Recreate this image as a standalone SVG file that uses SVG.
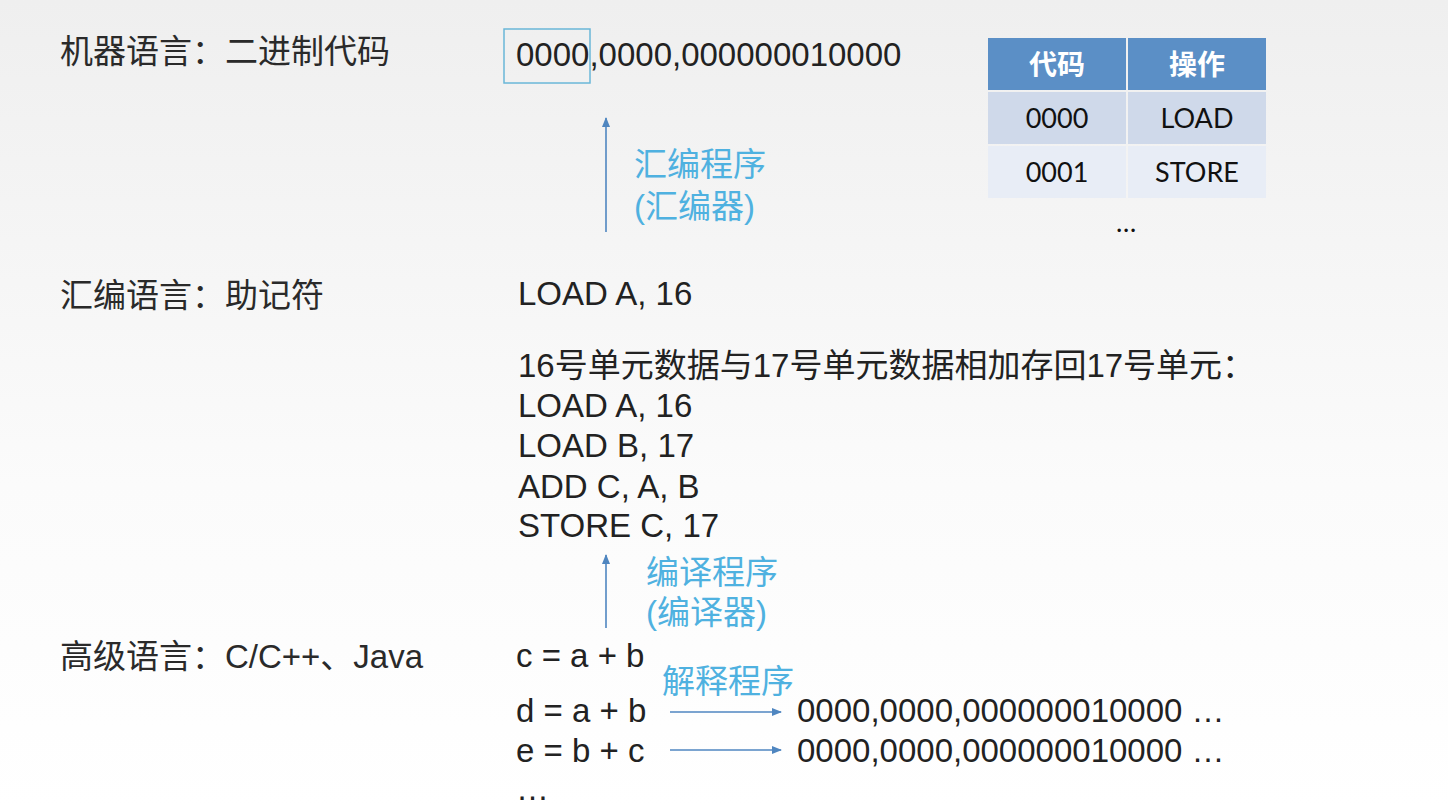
<svg xmlns="http://www.w3.org/2000/svg" width="1448" height="808" viewBox="0 0 1448 808">
<defs>
<linearGradient id="bg" x1="0" y1="0" x2="0" y2="1">
<stop offset="0" stop-color="#efefef"/>
<stop offset="0.6" stop-color="#fbfbfb"/>
<stop offset="1" stop-color="#ffffff"/>
</linearGradient>
<marker id="ah" viewBox="0 0 10 10" refX="9" refY="5" markerWidth="10" markerHeight="10" markerUnits="userSpaceOnUse" orient="auto">
<path d="M0,1 L10,5 L0,9 Z" fill="#4f86c0"/>
</marker>
<style>
.lbl{font-family:"Liberation Sans","Noto Sans CJK SC",sans-serif;font-size:33px;fill:#2a2a2a}
.code{font-family:"Liberation Sans","Noto Sans CJK SC",sans-serif;font-size:33px;fill:#222}
.blue{font-family:"Liberation Sans","Noto Sans CJK SC",sans-serif;font-size:33px;fill:#4fb1e0}
.th{font-family:"Lato","Noto Sans CJK SC",sans-serif;font-size:28px;font-weight:bold;fill:#fff}
.td{font-family:"Lato","Noto Sans CJK SC",sans-serif;font-size:27px;fill:#111}
.ln{stroke:#4f86c0;stroke-width:1.6;fill:none}
</style>
</defs>
<rect width="1448" height="808" fill="url(#bg)"/>

<g id="labels">
<text class="lbl" x="60" y="63">机器语言：二进制代码</text>
<text class="lbl" x="60" y="307">汇编语言：助记符</text>
<text class="lbl" x="60" y="668">高级语言：C/C++、Java</text>
</g>

<g id="machine-code">
<rect x="504" y="29" width="86" height="54" fill="none" stroke="#6ab7d8" stroke-width="1.5"/>
<text class="code" x="516" y="66">0000,0000,000000010000</text>
</g>

<g id="table">
<rect x="988" y="38" width="138" height="52" fill="#5b8fc6"/>
<rect x="1128" y="38" width="138" height="52" fill="#5b8fc6"/>
<rect x="988" y="92" width="138" height="52" fill="#cfd9ea"/>
<rect x="1128" y="92" width="138" height="52" fill="#cfd9ea"/>
<rect x="988" y="146" width="138" height="52" fill="#e8edf6"/>
<rect x="1128" y="146" width="138" height="52" fill="#e8edf6"/>
<text class="th" x="1057" y="75" text-anchor="middle">代码</text>
<text class="th" x="1197" y="75" text-anchor="middle">操作</text>
<text class="td" x="1057" y="128" text-anchor="middle">0000</text>
<text class="td" x="1197" y="128" text-anchor="middle">LOAD</text>
<text class="td" x="1057" y="182" text-anchor="middle">0001</text>
<text class="td" x="1197" y="182" text-anchor="middle">STORE</text>
<text class="td" x="1126" y="232" text-anchor="middle">…</text>
</g>

<g id="assembler-label">
<text class="blue" x="634" y="176">汇编程序</text>
<text class="blue" x="634" y="218">(汇编器)</text>
</g>

<g id="assembly">
<text class="code" x="518" y="305">LOAD A, 16</text>
<text class="code" x="518" y="377">16号单元数据与17号单元数据相加存回17号单元：</text>
<text class="code" x="518" y="417">LOAD A, 16</text>
<text class="code" x="518" y="457">LOAD B, 17</text>
<text class="code" x="518" y="498">ADD C, A, B</text>
<text class="code" x="518" y="537">STORE C, 17</text>
</g>

<g id="compiler-label">
<text class="blue" x="646" y="584">编译程序</text>
<text class="blue" x="646" y="624">(编译器)</text>
</g>

<g id="high-level">
<text class="code" x="516" y="667">c = a + b</text>
<text class="blue" x="662" y="693">解释程序</text>
<text class="code" x="516" y="722">d = a + b</text>
<text class="code" x="797" y="722">0000,0000,000000010000 …</text>
<text class="code" x="516" y="762">e = b + c</text>
<text class="code" x="797" y="762">0000,0000,000000010000 …</text>
<text class="code" x="516" y="800">…</text>
</g>

<g id="connectors">
<line class="ln" x1="606" y1="232" x2="606" y2="118" marker-end="url(#ah)"/>
<line class="ln" x1="606" y1="628" x2="606" y2="555" marker-end="url(#ah)"/>
<line class="ln" x1="670" y1="712" x2="781" y2="712" marker-end="url(#ah)"/>
<line class="ln" x1="670" y1="750" x2="781" y2="750" marker-end="url(#ah)"/>
</g>
</svg>
